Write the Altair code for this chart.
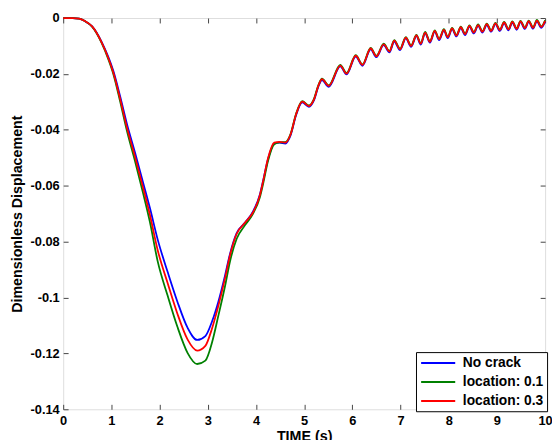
import altair as alt
import pandas as pd

# time samples (s)
time_s = [0.0, 0.2, 0.33, 0.45, 0.6, 0.8, 0.94, 1.04, 1.18, 1.32, 1.49, 1.66, 1.8, 1.96,
          2.17, 2.37, 2.58, 2.78, 2.95, 3.09, 3.22, 3.36, 3.46, 3.6, 3.77, 3.94, 4.08,
          4.15, 4.25, 4.38, 4.49, 4.61, 4.72, 4.83, 4.96, 5.1, 5.2, 5.3, 5.37, 5.51,
          5.75, 5.88, 6.07, 6.21, 6.38, 6.5, 6.65, 6.77, 6.87, 6.99, 7.11, 7.22, 7.33,
          7.42, 7.51, 7.61, 7.71, 7.8, 7.9, 7.98, 8.07, 8.16, 8.25, 8.34, 8.43, 8.52,
          8.61, 8.7, 8.79, 8.88, 8.97, 9.06, 9.15, 9.24, 9.32, 9.41, 9.49, 9.58, 9.66,
          9.75, 9.83, 9.92, 10.0]

no_crack = [0.0, 0.0, -0.0002, -0.0011, -0.0030, -0.0086, -0.0141, -0.0189, -0.0279, -0.0377,
            -0.0481, -0.0590, -0.0680, -0.0792, -0.0910, -0.1015, -0.1108, -0.1152, -0.1138,
            -0.1085, -0.1015, -0.0920, -0.0845, -0.0770, -0.0733, -0.0692, -0.0632, -0.0581,
            -0.0505, -0.0449, -0.0446, -0.0449, -0.0419, -0.0349, -0.0302, -0.0318, -0.0296,
            -0.0243, -0.0222, -0.0246, -0.0173, -0.0202, -0.0138, -0.0171, -0.0112, -0.0140,
            -0.0097, -0.0123, -0.0084, -0.0115, -0.0073, -0.0103, -0.0065, -0.0095, -0.0055,
            -0.0088, -0.0049, -0.0079, -0.0045, -0.0072, -0.0040, -0.0066, -0.0036, -0.0061,
            -0.0031, -0.0055, -0.0028, -0.0052, -0.0025, -0.0049, -0.0022, -0.0046, -0.0019,
            -0.0044, -0.0017, -0.0042, -0.0015, -0.0039, -0.0014, -0.0038, -0.0012, -0.0035,
            -0.0013]

location_01 = [0.0, 0.0, -0.0002, -0.0011, -0.0031, -0.0090, -0.0149, -0.0200, -0.0297, -0.0402,
               -0.0512, -0.0628, -0.0730, -0.0870, -0.0995, -0.1105, -0.1198, -0.1238, -0.1226,
               -0.1160, -0.1065, -0.0958, -0.0872, -0.0790, -0.0742, -0.0700, -0.0642, -0.0592,
               -0.0512, -0.0452, -0.0445, -0.0444, -0.0414, -0.0344, -0.0297, -0.0313, -0.0291,
               -0.0238, -0.0217, -0.0241, -0.0168, -0.0197, -0.0133, -0.0166, -0.0107, -0.0135,
               -0.0092, -0.0118, -0.0079, -0.0110, -0.0068, -0.0098, -0.0060, -0.0090, -0.0050,
               -0.0083, -0.0044, -0.0074, -0.0040, -0.0067, -0.0035, -0.0061, -0.0031, -0.0056,
               -0.0026, -0.0050, -0.0023, -0.0047, -0.0020, -0.0044, -0.0017, -0.0041, -0.0014,
               -0.0039, -0.0012, -0.0037, -0.0010, -0.0034, -0.0009, -0.0033, -0.0007, -0.0030,
               -0.0008]

location_03 = [0.0, 0.0, -0.0002, -0.0011, -0.0030, -0.0088, -0.0145, -0.0195, -0.0288, -0.0390,
               -0.0496, -0.0608, -0.0705, -0.0830, -0.0950, -0.1058, -0.1150, -0.1190, -0.1173,
               -0.1110, -0.1030, -0.0930, -0.0850, -0.0772, -0.0733, -0.0695, -0.0635, -0.0583,
               -0.0502, -0.0446, -0.0443, -0.0446, -0.0416, -0.0346, -0.0299, -0.0315, -0.0293,
               -0.0240, -0.0219, -0.0243, -0.0170, -0.0199, -0.0135, -0.0168, -0.0109, -0.0137,
               -0.0094, -0.0120, -0.0081, -0.0112, -0.0070, -0.0100, -0.0062, -0.0092, -0.0052,
               -0.0085, -0.0046, -0.0076, -0.0042, -0.0069, -0.0037, -0.0063, -0.0033, -0.0058,
               -0.0028, -0.0052, -0.0025, -0.0049, -0.0022, -0.0046, -0.0019, -0.0043, -0.0016,
               -0.0041, -0.0014, -0.0039, -0.0012, -0.0036, -0.0011, -0.0035, -0.0009, -0.0032,
               -0.0010]

series_names = ["No crack", "location: 0.1", "location: 0.3"]
series_colors = ["#0000FF", "#008000", "#FF0000"]
x_ticks = list(range(0, 11))
y_ticks = [0, -0.02, -0.04, -0.06, -0.08, -0.1, -0.12, -0.14]

rows = []
for name, vals in zip(series_names, [no_crack, location_01, location_03]):
    for t, v in zip(time_s, vals):
        rows.append({"t": t, "y": v, "series": name})
df = pd.DataFrame(rows)

W, H = 489, 397
FONT = "Liberation Sans"
xs = alt.Scale(domain=[0, 10], nice=False, zero=False)
ys = alt.Scale(domain=[-0.14, 0], nice=False, zero=False)

color = alt.Color(
    "series:N",
    scale=alt.Scale(domain=series_names, range=series_colors),
    legend=alt.Legend(
        title=None, orient="none", legendX=358, legendY=339,
        symbolType="M-2.47,0H2.47", symbolSize=196, symbolStrokeWidth=2,
        labelFont=FONT, labelFontSize=14, labelFontWeight="bold", labelColor="black",
        labelOffset=17, padding=3, rowPadding=4.3, symbolOffset=11.5,
        strokeColor="black", fillColor="white", cornerRadius=0,
    ),
)

x_main = alt.X("t:Q", scale=xs, axis=alt.Axis(
    orient="bottom", values=x_ticks, tickSize=0, domain=False, grid=False, labelPadding=5,
    labelFont=FONT, labelFontSize=13, labelFontWeight="bold", labelColor="black",
    title="TIME (s)", titleFont=FONT, titleFontSize=14.5, titleFontWeight="bold",
    titleColor="black", titlePadding=3, labelFlush=False))
y_main = alt.Y("y:Q", scale=ys, axis=alt.Axis(
    orient="left", values=y_ticks, tickSize=0, domain=False, grid=False, labelPadding=4,
    labelExpr="datum.value == 0 ? '0' : '-' + format(abs(datum.value), '.2~f')",
    labelFont=FONT, labelFontSize=13, labelFontWeight="bold", labelColor="black",
    title="Dimensionless Displacement", titleFont=FONT, titleFontSize=14.5,
    titleFontWeight="bold", titleColor="black", titlePadding=6, labelFlush=False))

layers = []
for i, name in enumerate(series_names):
    enc_x = x_main if i == 0 else alt.X("t:Q", scale=xs, axis=None)
    enc_y = y_main if i == 0 else alt.Y("y:Q", scale=ys, axis=None)
    layers.append(
        alt.Chart(df).transform_filter(alt.datum.series == name)
        .mark_line(strokeWidth=1.8, interpolate="monotone")
        .encode(x=enc_x, y=enc_y, color=color)
    )

def tick_layer(xorient, yorient):
    return alt.Chart(df).mark_point(opacity=0).encode(
        x=alt.X("t:Q", scale=xs, axis=alt.Axis(
            orient=xorient, offset=-H, values=x_ticks, labels=False, domain=False,
            grid=False, ticks=True, tickSize=5, tickWidth=1, tickColor="#444", title=None)),
        y=alt.Y("y:Q", scale=ys, axis=alt.Axis(
            orient=yorient, offset=-W, values=y_ticks, labels=False, domain=False,
            grid=False, ticks=True, tickSize=5, tickWidth=1, tickColor="#444", title=None)),
    )

chart = alt.layer(*layers, tick_layer("top", "right"), tick_layer("bottom", "left")).resolve_axis(
    x="independent", y="independent"
).properties(
    width=W, height=H,
    autosize=alt.AutoSizeParams(type="none"),
    padding={"left": 56, "top": 7, "right": 7, "bottom": 28},
).configure_view(stroke="#222", strokeWidth=1).configure(background="white")

chart.save("out.html", embed_options={"renderer": "svg", "actions": False})
